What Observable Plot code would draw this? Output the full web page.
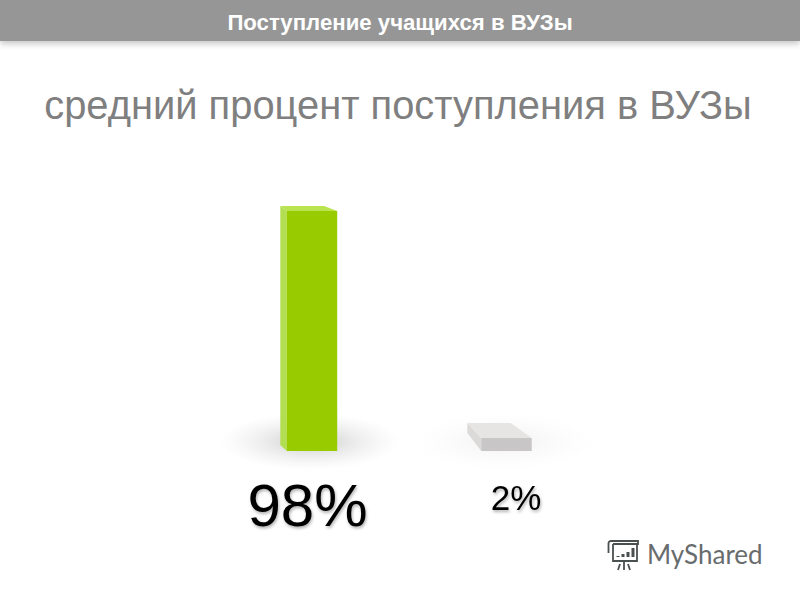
<!DOCTYPE html>
<html lang="ru">
<head>
<meta charset="utf-8">
<script src="https://cdn.jsdelivr.net/npm/d3@7"></script>
<script src="https://cdn.jsdelivr.net/npm/@observablehq/plot@0.6"></script>
<style>
  html, body { margin: 0; padding: 0; background: #fff; }
  #page { position: relative; width: 800px; height: 600px; overflow: hidden; font-family: "Liberation Sans", Arial, sans-serif; }
  #header { height: 41px; line-height: 46px; background: #969696; color: #fff; font-weight: bold; font-size: 22.2px; text-align: center; box-shadow: 0 3px 6px rgba(0,0,0,.22); position: relative; transform-origin: 0 0; }
  #subtitle { height: 109px; box-sizing: border-box; padding-top: 42px; line-height: 44px; color: #7f7f7f; font-size: 39.9px; text-align: center; margin-left: -4px; white-space: nowrap; }
  #chart svg { display: block; overflow: visible; }
  #brand { position: absolute; left: 606px; top: 536px; display: flex; align-items: center; gap: 5px; color: #686c6d; font-family: Lato, "Open Sans", sans-serif; font-size: 26px; }
</style>
</head>
<body>
<div id="page">
  <div id="header">Поступление учащихся в ВУЗы</div>
  <div id="subtitle">средний процент поступления в ВУЗы</div>
  <div id="chart"></div>
  <div id="brand">
    <svg width="36" height="36" viewBox="0 0 36 36" fill="none" stroke="#4a4f50" stroke-width="1.8">
      <path d="M5 5h27v3H7M5 5a2.500 2.500 0 0 0-2.500 2.500V17M7 8v17h24V8M18 25v3M12 34l2-6M18 34v-6M24 34l-2-6"/>
      <path d="M12 21v-1M17 21v-3M22 21v-5M27 21v-9" stroke-width="3"/>
    </svg>
    <span>MyShared</span>
  </div>
</div>
<script>
// Values as printed and bar heights as drawn in the picture (the small bar is drawn taller than 2%).
const positions = [0, 1];
const values = [98, 2];
const drawnHeights = [98, 5.3];
const labels = ["98%", "2%"];

const frontColors = ["#99cc00", "#c8c6c6"];
const topColors = ["#b9e34f", "#e6e5e4"];
const sideColors = ["#b2df52", "#dcdad9"];
const shadowIds = ["shadowDark", "shadowLight"];
const labelSizes = [60, 35];
const labelDx = [-5, 9];
const labelDy = [55, 47];

const pxPerX = 194.5, pxPerY = 2.449;
const ux = (v) => v / pxPerX;
const uy = (v) => v / pxPerY;
const halfWidth = ux(25.2);

// pseudo-3D depth of each box, in px
const backLeft = [6.5, 14];
const backRight = [-13, -21];
const backUp = [5, 15];
const sideDrop = [6, 18];

const bars = positions.map((x, i) => ({
  x, value: values[i], h: drawnHeights[i], label: labels[i],
  front: frontColors[i], top: topColors[i], side: sideColors[i], shadow: shadowIds[i]
}));

const topFace = bars.flatMap((b, i) => [
  {i, y: b.h, x1: b.x - halfWidth, x2: b.x + halfWidth},
  {i, y: b.h + uy(backUp[i]), x1: b.x - halfWidth - ux(backLeft[i]), x2: b.x + halfWidth + ux(backRight[i])}
]);
const sideFace = bars.flatMap((b, i) => [
  {i, x: b.x - halfWidth, y1: 0, y2: b.h},
  {i, x: b.x - halfWidth - ux(backLeft[i]), y1: uy(sideDrop[i]), y2: b.h + uy(backUp[i])}
]);

const defs = () => {
  const make = (id, alpha) => `<radialGradient id="${id}">
    <stop offset="0" stop-color="#8c8c8c" stop-opacity="${alpha}"/>
    <stop offset=".5" stop-color="#a0a0a0" stop-opacity="${alpha * .45}"/>
    <stop offset="1" stop-color="#c0c0c0" stop-opacity="0"/></radialGradient>`;
  const g = document.createElementNS("http://www.w3.org/2000/svg", "defs");
  g.innerHTML = make("shadowDark", .45) + make("shadowLight", .12);
  return g;
};

const chart = Plot.plot({
  width: 800, height: 450,
  margin: 0,
  x: {domain: [-312 / pxPerX, 488 / pxPerX], range: [0, 800], axis: null},
  y: {domain: [-149 / pxPerY, 301 / pxPerY], range: [450, 0], axis: null},
  marks: [
    defs,
    ...bars.map((b) => Plot.rect([b], {
      x1: (d) => d.x - ux(92), x2: (d) => d.x + ux(88),
      y1: uy(-19), y2: uy(38), fill: `url(#${b.shadow})`
    })),
    ...bars.map((b, i) => Plot.areaY(sideFace.filter((d) => d.i === i), {
      x: "x", y1: "y1", y2: "y2", fill: b.side
    })),
    ...bars.map((b, i) => Plot.areaX(topFace.filter((d) => d.i === i), {
      y: "y", x1: "x1", x2: "x2", fill: b.top
    })),
    Plot.rect(bars, {
      x1: (d) => d.x - halfWidth, x2: (d) => d.x + halfWidth,
      y1: 0, y2: "h", fill: "front"
    }),
    ...bars.map((b, i) => Plot.text([b], {
      x: "x", y: 0, text: "label", dx: labelDx[i], dy: labelDy[i],
      fontSize: labelSizes[i], fill: "#000",
      fontFamily: "Liberation Sans, Arial, sans-serif",
      imageFilter: "drop-shadow(1px 2px 1.500px rgba(0,0,0,.3))"
    }))
  ]
});
document.getElementById("chart").append(chart);
</script>
</body>
</html>
